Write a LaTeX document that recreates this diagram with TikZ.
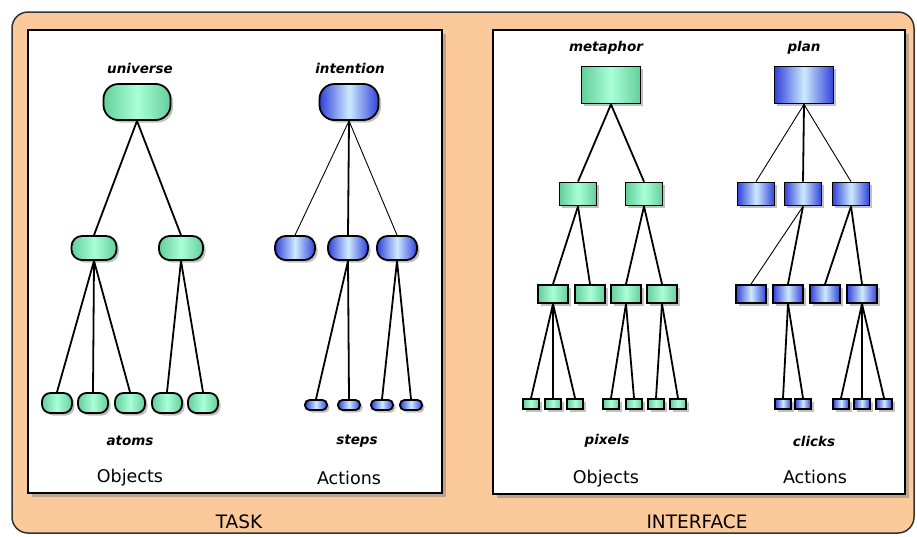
\documentclass[tikz,border=0pt]{standalone}
\usepackage{fontspec}
\setmainfont{DejaVu Sans}
\usetikzlibrary{shadows}

\definecolor{peach}{RGB}{252,202,154}
\definecolor{gedge}{RGB}{100,206,154}
\definecolor{gmid}{RGB}{170,255,216}
\definecolor{bedge}{RGB}{48,66,218}
\definecolor{bmid}{RGB}{206,234,255}

\tikzset{
  panel/.style={draw=black, line width=1.8pt, fill=white, drop shadow={shadow xshift=3.5pt, shadow yshift=-3.5pt, fill=black!45, opacity=.6}},
  tbox/.style={draw=black, line width=1.8pt, inner sep=0pt, drop shadow={shadow xshift=2.5pt, shadow yshift=-2.5pt, fill=black!40, opacity=.6}},
  gbox/.style={tbox, left color=gedge, right color=gedge, middle color=gmid},
  bbox/.style={tbox, left color=bedge, right color=bedge, middle color=bmid},
  troot/.style={minimum height=36pt, rounded corners=15pt},
  tmid/.style={minimum height=24pt, rounded corners=10.5pt},
  uleaf/.style={minimum width=30pt, minimum height=20pt, rounded corners=8.5pt},
  sleaf/.style={minimum width=22pt, minimum height=10pt, rounded corners=4.5pt},
  iroot/.style={minimum width=59pt, minimum height=37pt},
  imid/.style={minimum width=37pt, minimum height=23pt},
  ilow/.style={minimum width=30pt, minimum height=18pt},
  ileaf/.style={minimum width=16pt, minimum height=10pt},
  link/.style={line width=1.8pt},
  thinlink/.style={line width=.9pt},
  lab/.style={font=\fontsize{13.5}{13.5}\selectfont\bfseries\itshape},
  kind/.style={font=\fontsize{17.5}{17.5}\selectfont},
  side/.style={font=\fontsize{18.5}{18.5}\selectfont}
}

\begin{document}
\begin{tikzpicture}[x=1pt, y=-1pt]
  \useasboundingbox (0,0) rectangle (917,536);
  \draw[fill=peach, draw=black!80, line width=1.5pt, rounded corners=16pt] (12,12) rectangle (914,533);
  \draw[panel] (28,30) rectangle (442,493);
  \draw[panel] (493,30) rectangle (905,494);

  % task: objects
  \node[lab] (universe) at (140,68) {universe};
  \node[gbox, troot, minimum width=67pt] (uroot) at (137,102) {};
  \node[gbox, tmid, minimum width=45pt] (um1) at (94,248) {};
  \node[gbox, tmid, minimum width=44pt] (um2) at (181,248) {};
  \foreach \x [count=\i] in {57,93,130,167,203}
    \node[gbox, uleaf] (ua\i) at (\x,403) {};
  \draw[link] (uroot.south) -- (um1.north);
  \draw[link] (uroot.south) -- (um2.north);
  \foreach \i in {1,2,3} \draw[link] (um1.south) -- (ua\i.north);
  \foreach \i in {4,5} \draw[link] (um2.south) -- (ua\i.north);
  \node[lab] (atoms) at (130,441) {atoms};
  \node[kind] (tobj) at (130,478) {Objects};

  % task: actions
  \node[lab] (intention) at (350,68) {intention};
  \node[bbox, troot, minimum width=59pt] (iroot) at (349,102) {};
  \foreach \x [count=\i] in {295,348,397}
    \node[bbox, tmid, minimum width=40pt] (im\i) at (\x,248) {};
  \foreach \x [count=\i] in {316,349,382,411}
    \node[bbox, sleaf] (is\i) at (\x,405) {};
  \draw[thinlink] (iroot.south) -- (im1.north);
  \draw[link] (iroot.south) -- (im2.north);
  \draw[thinlink] (iroot.south) -- (im3.north);
  \foreach \i in {1,2} \draw[link] (im2.south) -- (is\i.north);
  \foreach \i in {3,4} \draw[link] (im3.south) -- (is\i.north);
  \node[lab] (steps) at (357,441) {steps};
  \node[kind] (tact) at (349,478) {Actions};

  % interface: objects
  \node[lab] (metaphor) at (606,48) {metaphor};
  \node[gbox, iroot] (mroot) at (611,85) {};
  \node[gbox, imid] (mm1) at (578,194) {};
  \node[gbox, imid] (mm2) at (644,194) {};
  \foreach \x [count=\i] in {553,590,626,662}
    \node[gbox, ilow] (ml\i) at (\x,294) {};
  \foreach \x [count=\i] in {531,553,575,611,634,656,678}
    \node[gbox, ileaf] (mp\i) at (\x,404) {};
  \draw[link] (mroot.south) -- (mm1.north);
  \draw[link] (mroot.south) -- (mm2.north);
  \foreach \i in {1,2} \draw[link] (mm1.south) -- (ml\i.north);
  \foreach \i in {3,4} \draw[link] (mm2.south) -- (ml\i.north);
  \foreach \i in {1,2,3} \draw[link] (ml1.south) -- (mp\i.north);
  \foreach \i in {4,5} \draw[link] (ml3.south) -- (mp\i.north);
  \foreach \i in {6,7} \draw[link] (ml4.south) -- (mp\i.north);
  \node[lab] (pixels) at (607,441) {pixels};
  \node[kind] (iobj) at (606,479) {Objects};

  % interface: actions
  \node[lab] (plan) at (804,48) {plan};
  \node[bbox, iroot] (proot) at (804,85) {};
  \foreach \x [count=\i] in {756,803,851}
    \node[bbox, imid] (pm\i) at (\x,194) {};
  \foreach \x [count=\i] in {751,788,825,862}
    \node[bbox, ilow] (pl\i) at (\x,294) {};
  \foreach \x [count=\i] in {783,803,841,862,884}
    \node[bbox, ileaf] (pc\i) at (\x,404) {};
  \draw[thinlink] (proot.south) -- (pm1.north);
  \draw[link] (proot.south) -- (pm2.north);
  \draw[thinlink] (proot.south) -- (pm3.north);
  \draw[thinlink] (pm2.south) -- (pl1.north);
  \draw[link] (pm2.south) -- (pl2.north);
  \foreach \i in {3,4} \draw[link] (pm3.south) -- (pl\i.north);
  \foreach \i in {1,2} \draw[link] (pl2.south) -- (pc\i.north);
  \foreach \i in {3,4,5} \draw[link] (pl4.south) -- (pc\i.north);
  \node[lab] (clicks) at (814,441) {clicks};
  \node[kind] (iact) at (815,477) {Actions};

  \node[side] (task) at (239,522) {TASK};
  \node[side] (iface) at (697,522) {INTERFACE};
\end{tikzpicture}
\end{document}
